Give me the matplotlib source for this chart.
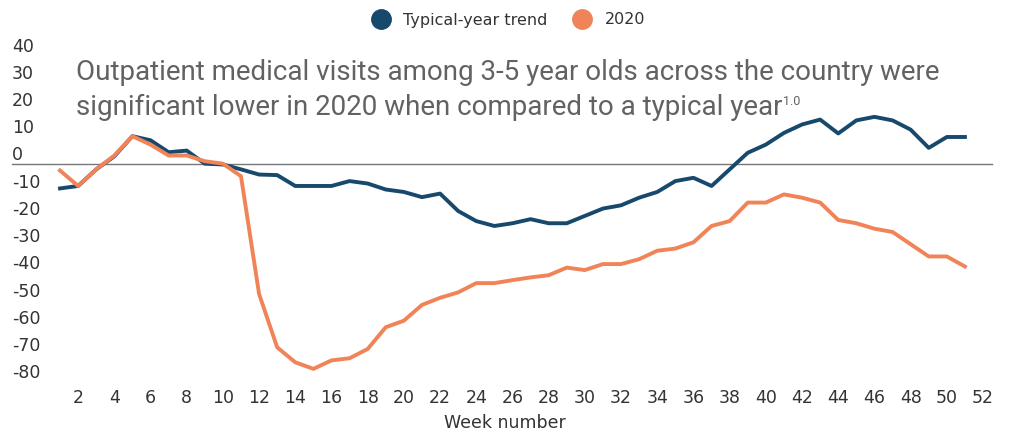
import matplotlib.pyplot as plt
import matplotlib.transforms as mtransforms
from matplotlib.lines import Line2D

# ── Données ───────────────────────────────────────────────────────────────────
weeks = list(range(1, 52))

typical_year = [-8.8, -7.9, -1.8, 3.0, 10.4, 8.9, 4.5, 5.1, 0.3, 0.0,
                -1.8, -3.7, -3.9, -7.9, -7.9, -7.9, -6.1, -7.0, -9.2, -10.1,
                -12.0, -10.7, -17.1, -20.8, -22.6, -21.6, -20.1, -21.6, -21.6, -18.9,
                -16.2, -15.0, -12.2, -10.1, -6.1, -4.9, -7.9, -1.8, 4.3, 7.3,
                11.6, 14.7, 16.5, 11.4, 16.2, 17.5, 16.2, 12.8, 6.1, 10.1,
                10.1]

year_2020 = [-2.2, -7.9, -1.8, 3.3, 10.4, 7.3, 3.3, 3.3, 1.2, 0.3,
             -4.3, -47.6, -67.2, -72.7, -75.1, -72.0, -71.2, -67.8, -59.8, -57.4,
             -51.6, -49.0, -47.0, -43.6, -43.6, -42.5, -41.5, -40.7, -37.9, -38.8,
             -36.6, -36.6, -34.8, -31.7, -30.9, -28.6, -22.6, -20.8, -14.0, -14.0,
             -11.0, -12.2, -14.0, -20.4, -21.6, -23.6, -24.8, -29.3, -33.8, -33.8,
             -37.5]

xticks = list(range(2, 53, 2))
yticks = [40, 30, 20, 10, 0, -10, -20, -30, -40, -50, -60, -70, -80]

BLUE   = "#17496c"
ORANGE = "#f08458"
TXT    = "#333333"
TITLE  = "#626262"

# ── Figure ────────────────────────────────────────────────────────────────────
fig = plt.figure(figsize=(10.1, 4.33), dpi=100)
ax = fig.add_axes([0, 50 / 433, 1, 383 / 433])
ax.set_xlim(-2.315, 53.49)
ax.set_ylim(-80.3, 60.44)

ax.plot(weeks, typical_year, color=BLUE, linewidth=2.8, solid_joinstyle="round", zorder=3)
ax.plot(weeks, year_2020, color=ORANGE, linewidth=2.8, solid_joinstyle="round", zorder=4)

ax.axhline(0, xmin=12 / 1010, xmax=992 / 1010, color="#777777", linewidth=1, zorder=2)

for s in ax.spines.values():
    s.set_visible(False)

ax.set_xticks(xticks)
ax.set_xticklabels([str(t) for t in xticks])
ax.tick_params(axis="x", length=0, pad=4, labelsize=12.5, labelcolor=TXT)
ax.set_xlabel("Week number", fontsize=12.5, color=TXT, labelpad=5)

# étiquettes Y posées au-dessus de leur valeur, alignées à gauche
ax.set_yticks([])
trans = mtransforms.blended_transform_factory(ax.transAxes, ax.transData)
trans = mtransforms.offset_copy(trans, fig=fig, x=0, y=4, units="dots")
for v in yticks:
    ax.text(12 / 1010, v, str(v), transform=trans, ha="left", va="baseline",
            fontsize=12.5, color=TXT)

# ── Titre ─────────────────────────────────────────────────────────────────────
t1 = fig.text(76 / 1010, 1 - 72 / 433,
              "Outpatient medical visits among 3-5 year olds across the country were",
              ha="left", va="center", fontsize=20, color=TITLE, family="Roboto")
t2 = fig.text(76 / 1010, 1 - 107 / 433,
              "significant lower in 2020 when compared to a typical year",
              ha="left", va="center", fontsize=20, color=TITLE, family="Roboto")
plt.annotate("1.0", xy=(1, 1), xycoords=t2, xytext=(0.5, -1), textcoords="offset points",
             ha="left", va="top", fontsize=9, color=TITLE, family="Roboto",
             annotation_clip=False)

# ── Légende ───────────────────────────────────────────────────────────────────
handles = [Line2D([], [], linestyle="none", marker="o", markersize=14,
                  markerfacecolor=BLUE, markeredgecolor=BLUE, label="Typical-year trend"),
           Line2D([], [], linestyle="none", marker="o", markersize=14,
                  markerfacecolor=ORANGE, markeredgecolor=ORANGE, label="2020")]
fig.legend(handles=handles, loc="center", bbox_to_anchor=(0.5, 1 - 20 / 433),
           ncol=2, frameon=False, fontsize=11.5, handletextpad=0.4,
           columnspacing=1.2, labelcolor=TXT)

fig.savefig("out.png", dpi=100)
